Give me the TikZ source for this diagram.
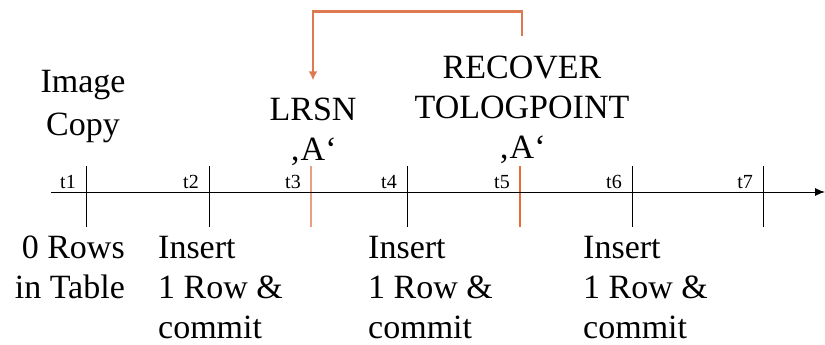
\documentclass[tikz,border=0pt]{standalone}
\usepackage{fontspec}
\setmainfont{Liberation Serif}
\usepackage{xcolor}
\usepackage{tikz}
\usetikzlibrary{arrows.meta}

\definecolor{linkorange}{RGB}{222,122,82}
\definecolor{tickpale}{RGB}{236,158,128}
\definecolor{tickred}{RGB}{234,106,56}

\tikzset{
  big/.style={font=\fontsize{34}{40}\selectfont, inner sep=0pt, anchor=base},
  tlabel/.style={font=\fontsize{20}{24}\selectfont, inner sep=0pt, anchor=base east},
  tick/.style={line width=0.9pt},
  link/.style={line width=2.6pt, linkorange, -{Latex[length=9pt,width=9pt]}}
}

\begin{document}
\begin{tikzpicture}[x=1pt,y=-1pt]
    \useasboundingbox (0,0) rectangle (825,345);

    % Ticks and their labels
    \foreach \n/\x/\c/\w in {1/86/black/0.9, 2/209/black/0.9, 3/311/tickpale/1.4,
                             4/407/black/0.9, 5/520/tickred/1.2, 6/632/black/0.9,
                             7/763/black/0.9} {
        \draw[tick, \c, line width=\w pt] (\x,166) coordinate (tick\n) -- (\x,227);
        \node[tlabel] (t\n) at (\x-10,188) {t\n};
    }

    % Time axis
    \coordinate (start) at (51,192);
    \coordinate (end) at (825,192);
    \draw[-{Latex[length=10pt,width=8pt]}, line width=1pt] (start) -- (end);

    % Events above the axis (base = last line)
    \node[big, align=center] (image) at (83,135) {Image\\[3pt]Copy};
    \node[big, align=center] (lrsn) at (313,160) {LRSN\\‚A‘};
    \node[big, align=center] (recover) at (522,158) {RECOVER\\TOLOGPOINT\\‚A‘};

    % Recover goes back to the LRSN
    \draw[link] ([yshift=19pt]recover.north) -- ++(0,-25) -| ([yshift=17pt]lrsn.north);

    % Table state below the axis
    \node[big, align=right, anchor=base east] (empty) at (125,298) {0 Rows\\in Table};
    \node[big, align=left, anchor=base west] (insA) at (158,338) {Insert\\1 Row \&\\commit};
    \node[big, align=left, anchor=base west] (insB) at (368,338) {Insert\\1 Row \&\\commit};
    \node[big, align=left, anchor=base west] (insC) at (583,338) {Insert\\1 Row \&\\commit};
\end{tikzpicture}
\end{document}
